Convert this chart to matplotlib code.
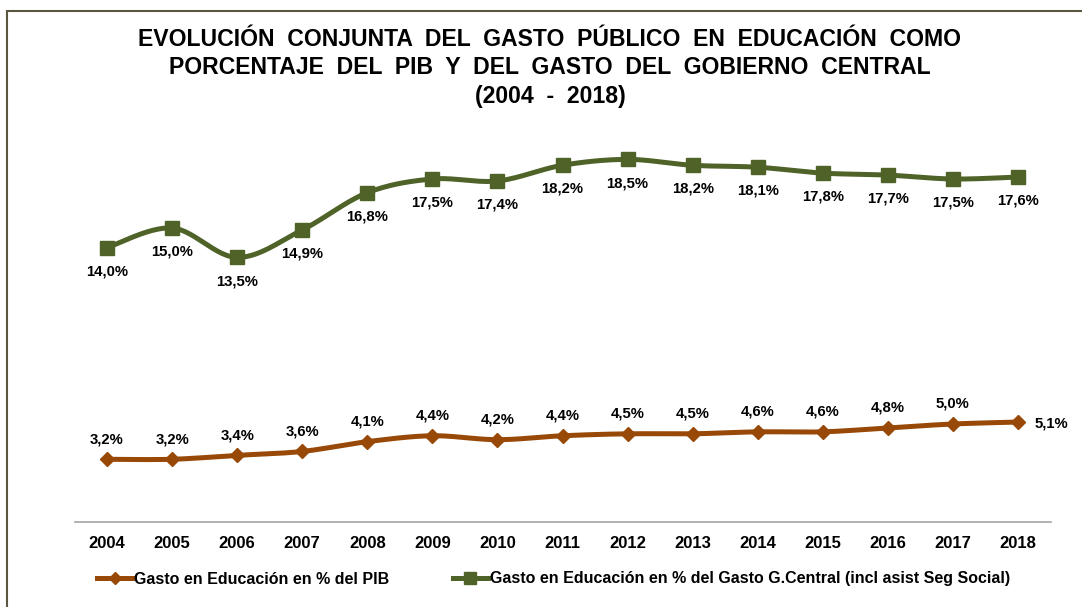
import numpy as np
import matplotlib.pyplot as plt
from matplotlib.lines import Line2D

plt.rcParams['font.family'] = ['Liberation Sans', 'DejaVu Sans']

years = ['2004', '2005', '2006', '2007', '2008', '2009', '2010', '2011',
         '2012', '2013', '2014', '2015', '2016', '2017', '2018']
pib = [3.2, 3.2, 3.4, 3.6, 4.1, 4.4, 4.2, 4.4, 4.5, 4.5, 4.6, 4.6, 4.8, 5.0, 5.1]
gob = [14.0, 15.0, 13.5, 14.9, 16.8, 17.5, 17.4, 18.2, 18.5, 18.2, 18.1, 17.8, 17.7, 17.5, 17.6]

lbl_pib = 'Gasto en Educación en % del PIB'
lbl_gob = 'Gasto en Educación en % del Gasto G.Central (incl asist Seg Social)'
title = ('EVOLUCIÓN  CONJUNTA  DEL  GASTO  PÚBLICO  EN  EDUCACIÓN  COMO\n'
         'PORCENTAJE  DEL  PIB  Y  DEL  GASTO  DEL  GOBIERNO  CENTRAL\n'
         '(2004  -  2018)')

c_pib = '#984807'
c_gob = '#4f6228'


def smooth(x, y, n=30):
    # bezier smoothing like the spreadsheet "smoothed line"
    p = np.column_stack([x, y]).astype(float)
    p = np.vstack([p[0], p, p[-1]])
    out = []
    t = np.linspace(0, 1, n)[:, None]
    for i in range(1, len(p) - 2):
        p0, p3 = p[i], p[i + 1]
        c1 = p0 + (p[i + 1] - p[i - 1]) / 6
        c2 = p3 - (p[i + 2] - p[i]) / 6
        seg = (1 - t)**3 * p0 + 3 * (1 - t)**2 * t * c1 + 3 * (1 - t) * t**2 * c2 + t**3 * p3
        out.append(seg if i == 1 else seg[1:])
    s = np.vstack(out)
    return s[:, 0], s[:, 1]


W, H = 1082, 607
fig = plt.figure(figsize=(W / 100, H / 100), dpi=100)
ax = fig.add_axes([74.5 / W, (H - 522) / H, 976 / W, 392 / H])

x = np.arange(len(years))
sx, sy = smooth(x, pib)
ax.plot(sx, sy, color=c_pib, lw=3.6, solid_capstyle='round')
ax.plot(x, pib, 'D', color=c_pib, ms=7.5, ls='none')
sx, sy = smooth(x, gob)
ax.plot(sx, sy, color=c_gob, lw=3.6, solid_capstyle='round')
ax.plot(x, gob, 's', color=c_gob, ms=10, ls='none')

for i, v in enumerate(pib):
    s = f'{v:.1f}%'.replace('.', ',')
    if i == len(pib) - 1:
        ax.annotate(s, (i, v), xytext=(12, -1), textcoords='offset points',
                    ha='left', va='center', fontsize=10.7, fontweight='bold')
    else:
        ax.annotate(s, (i, v), xytext=(0, 14.5), textcoords='offset points',
                    ha='center', va='center', fontsize=10.7, fontweight='bold')
for i, v in enumerate(gob):
    s = f'{v:.1f}%'.replace('.', ',')
    ax.annotate(s, (i, v), xytext=(0, -17), textcoords='offset points',
                ha='center', va='center', fontsize=10.7, fontweight='bold')

ax.set_xlim(-0.5, len(years) - 0.5)
ax.set_ylim(0, 20)
ax.set_xticks(x)
ax.set_xticklabels(years, fontsize=12, fontweight='bold')
ax.set_yticks([])
ax.tick_params(axis='x', length=0, pad=10)
for k in ['top', 'left', 'right']:
    ax.spines[k].set_visible(False)
ax.spines['bottom'].set_color('#a6a6a6')
ax.spines['bottom'].set_linewidth(1.2)

fig.text(550 / W, 1 - 68 / H, title, ha='center', va='center',
         fontsize=16.6, fontweight='bold', linespacing=1.33)

h1 = Line2D([], [], color=c_pib, lw=3.6, marker='D', ms=6)
h2 = Line2D([], [], color=c_gob, lw=3.6, marker='s', ms=8)
fig.legend([h1, h2], [lbl_pib, lbl_gob], loc='center left',
           bbox_to_anchor=(97 / W, 1 - 579 / H), ncol=2, frameon=False,
           prop={'weight': 'bold', 'size': 11.5}, handlelength=2.2,
           handletextpad=0.1, columnspacing=4.0, borderpad=0, borderaxespad=0)

# chart border
bc = '#5a5640'
fig.add_artist(Line2D([7 / W, 7 / W], [0, 1 - 11 / H], transform=fig.transFigure, color=bc, lw=1.5))
fig.add_artist(Line2D([7 / W, 1], [1 - 11 / H, 1 - 11 / H], transform=fig.transFigure, color=bc, lw=1.5))

fig.savefig('out.png', dpi=100)
